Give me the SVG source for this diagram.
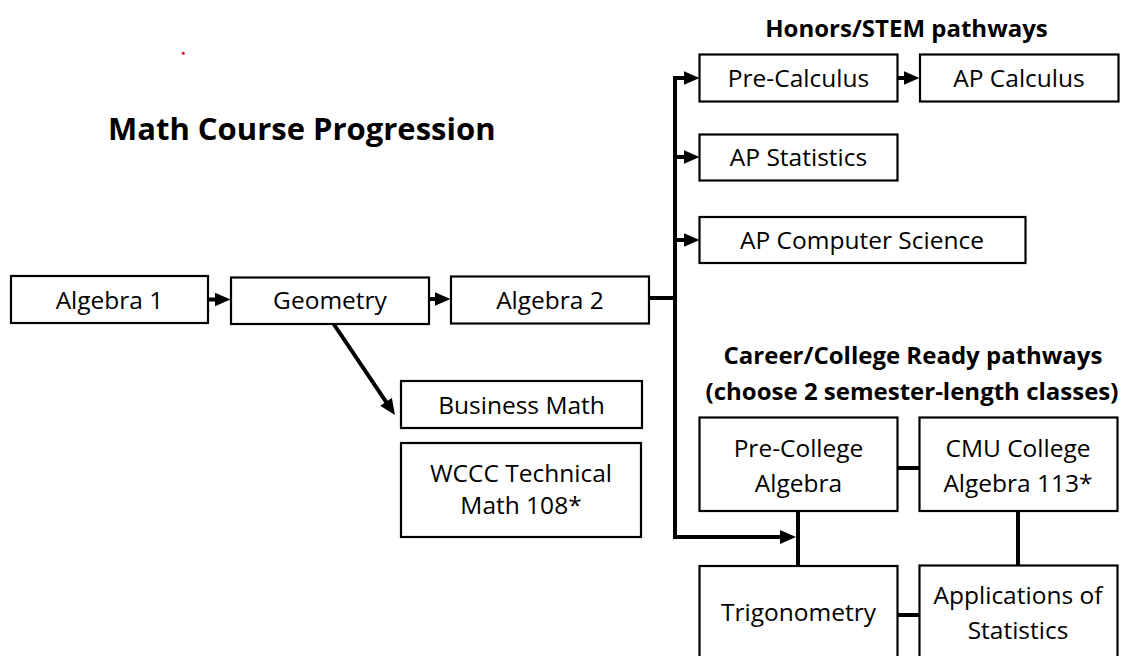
<svg xmlns="http://www.w3.org/2000/svg" width="1123" height="656" viewBox="0 0 1123 656">
<style>
.box{fill:#fff;stroke:#000;stroke-width:2.2}
.t{font-family:"Open Sans","Noto Sans",sans-serif;font-size:24.5px;fill:#000;text-anchor:middle}
.h{font-family:"Open Sans","Noto Sans",sans-serif;font-weight:bold;font-size:24px;fill:#000;text-anchor:middle}
.c{fill:none;stroke:#000;stroke-width:4}
</style>
<defs>
<marker id="ah" markerUnits="userSpaceOnUse" markerWidth="17" markerHeight="15" refX="1" refY="7" orient="auto">
<path d="M0,0 L16,7 L0,14 z" fill="#000"/>
</marker>
</defs>
<rect width="1123" height="656" fill="#fff"/>
<circle cx="183.3" cy="53.3" r="1.5" fill="#e00"/>
<text x="108" y="140" font-family="'Open Sans','Noto Sans',sans-serif" font-weight="bold" font-size="31" fill="#000">Math Course Progression</text>
<text class="h" x="906.5" y="36.5" font-size="24.4">Honors/STEM pathways</text>
<text class="h" x="913" y="364">Career/College Ready pathways</text>
<text class="h" x="912" y="400">(choose 2 semester-length classes)</text>

<g id="connectors">
<path class="c" d="M208,299.5 H215.5" marker-end="url(#ah)"/>
<path class="c" d="M429,299 H435.5" marker-end="url(#ah)"/>
<path class="c" d="M898,78 H904.5" marker-end="url(#ah)"/>
<path class="c" d="M649,298 H677"/>
<path class="c" d="M675,539 V78 H684.5" marker-end="url(#ah)"/>
<path class="c" d="M675,157 H684.5" marker-end="url(#ah)"/>
<path class="c" d="M675,240 H684.5" marker-end="url(#ah)"/>
<path class="c" d="M673,537 H781" marker-end="url(#ah)"/>
<path class="c" d="M333,323 L386.6,402.6" marker-end="url(#ah)"/>
<path class="c" d="M898,468 H919.5"/>
<path class="c" d="M798,511 V566"/>
<path class="c" d="M1018,511 V565.5"/>
<path class="c" d="M898,615 H919.5"/>
</g>

<g id="algebra1"><rect class="box" x="11" y="276" width="197" height="47"/><text class="t" x="109.5" y="308.5">Algebra 1</text></g>
<g id="geometry"><rect class="box" x="231" y="277.5" width="198" height="46.5"/><text class="t" x="330" y="308.5">Geometry</text></g>
<g id="algebra2"><rect class="box" x="451" y="276.5" width="198" height="47"/><text class="t" x="550" y="308.5">Algebra 2</text></g>
<g id="precalculus"><rect class="box" x="699.5" y="54.5" width="198" height="47"/><text class="t" x="798.5" y="86.5">Pre-Calculus</text></g>
<g id="apcalculus"><rect class="box" x="920" y="54.5" width="198.5" height="47"/><text class="t" x="1019" y="86.5">AP Calculus</text></g>
<g id="apstatistics"><rect class="box" x="699.5" y="134.5" width="198" height="46"/><text class="t" x="798.5" y="165.5">AP Statistics</text></g>
<g id="apcs"><rect class="box" x="699.5" y="217" width="326" height="46"/><text class="t" x="862" y="248.5">AP Computer Science</text></g>
<g id="businessmath"><rect class="box" x="401" y="381" width="241" height="47"/><text class="t" x="521.5" y="413.5">Business Math</text></g>
<g id="wccc"><rect class="box" x="401" y="443" width="240" height="94"/><text class="t" x="521" y="481.5">WCCC Technical</text><text class="t" x="521" y="513.5">Math 108*</text></g>
<g id="precollege"><rect class="box" x="699.5" y="417.5" width="198" height="93.5"/><text class="t" x="798.5" y="456.5">Pre-College</text><text class="t" x="798.5" y="491.5">Algebra</text></g>
<g id="cmu"><rect class="box" x="919.5" y="417.5" width="198" height="93.5"/><text class="t" x="1018" y="456.5">CMU College</text><text class="t" x="1018" y="491.5">Algebra 113*</text></g>
<g id="trigonometry"><rect class="box" x="699.5" y="566" width="198" height="100"/><text class="t" x="798.5" y="620.5">Trigonometry</text></g>
<g id="applications"><rect class="box" x="919.5" y="565.5" width="198" height="100"/><text class="t" x="1018" y="603.5">Applications of</text><text class="t" x="1018" y="638.5">Statistics</text></g>
</svg>
